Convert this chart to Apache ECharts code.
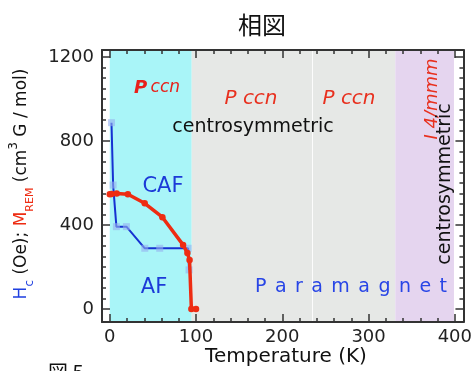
<!DOCTYPE html>
<html>
<head>
<meta charset="utf-8">
<script src="https://cdn.jsdelivr.net/npm/echarts@6/dist/echarts.min.js"></script>
<style>html,body{margin:0;padding:0;background:#fff}#c{width:475px;height:371px}</style>
</head>
<body>
<div id="c"></div>
<script>
// ---- data ----
const hcTemp = [2, 3.9, 7.7, 19.3, 40.6, 57.9, 90.8, 91.9];
const hcValue = [887, 590, 392, 392, 289, 289, 289, 186];
const mremTemp = [0, 2, 8, 21, 40.5, 61, 85, 90, 92.5, 94.6, 100];
const mremValue = [546, 548, 550, 546, 503, 437, 305, 266, 233, 0, 0];
const phaseRegions = [[0, 95], [95, 234.5], [235.5, 331], [331, 399]];
const xTickLabels = [0, 100, 200, 300, 400];
const yTickLabels = [0, 400, 800, 1200];

const regionColors = ['#a9f5f8', '#e6e8e6', '#e6e8e6', '#e5d5ef'];
const FONT = 'DejaVu Sans';
const X_MIN = -9, X_MAX = 410, Y_MIN = -62, Y_MAX = 1233;

function range(a, b, step, skip) {
  const out = [];
  for (let v = a; v <= b + 1e-9; v += step) if (!skip.includes(v)) out.push(v);
  return out;
}
const xMinor = range(0, 400, 20, xTickLabels);
const yMinor = range(0, 1200, 50, yTickLabels);

const lineCol = '#333';
function makeAxis(kind, pos, ticks, len, labels, showLine) {
  return {
    type: 'value', position: pos, z: 10,
    min: kind === 'x' ? X_MIN : Y_MIN, max: kind === 'x' ? X_MAX : Y_MAX,
    axisLine: {show: showLine, onZero: false, lineStyle: {color: lineCol, width: 2}},
    axisTick: {show: true, inside: true, length: len, customValues: ticks, lineStyle: {color: lineCol, width: 1.5}},
    axisLabel: labels ? {show: true, customValues: ticks, formatter: v => String(v), fontFamily: FONT, fontSize: 18, color: '#222', margin: kind === 'x' ? 6 : 8} : {show: false},
    splitLine: {show: false}
  };
}

const chart = echarts.init(document.getElementById('c'), null, {renderer: 'canvas'});

const areaData = phaseRegions.map((r, i) => [
  {xAxis: r[0], itemStyle: {color: regionColors[i], opacity: 1}},
  {xAxis: r[1]}
]);

// letter-spaced "Paramagnet"
const paraFont = '19px "' + FONT + '"';
const mctx = document.createElement('canvas').getContext('2d');
mctx.font = paraFont;
const paraChars = 'Paramagnet'.split('');
const widths = paraChars.map(c => mctx.measureText(c).width);
const paraStart = 255, paraEnd = 447;
const gap = (paraEnd - paraStart - widths.reduce((a, b) => a + b, 0)) / (paraChars.length - 1);
let cx = paraStart;
const paraTexts = paraChars.map((ch, i) => {
  const el = {type: 'text', x: cx, y: 287, z: 100,
    style: {text: ch, fill: '#2845e6', font: paraFont, align: 'left', verticalAlign: 'middle'}};
  cx += widths[i] + gap;
  return el;
});

function txt(x, y, text, fill, font, rot) {
  return {type: 'text', x: x, y: y, z: 100, rotation: rot || 0,
    style: {text: text, fill: fill, font: font, align: 'center', verticalAlign: 'middle'}};
}

chart.setOption({
  animation: false,
  grid: {left: 102, right: 11, top: 50, bottom: 49, containLabel: false},
  xAxis: [
    makeAxis('x', 'bottom', xTickLabels, 8, true, true),
    makeAxis('x', 'bottom', xMinor, 4, false, false),
    makeAxis('x', 'top', xTickLabels, 8, false, true),
    makeAxis('x', 'top', xMinor, 4, false, false)
  ],
  yAxis: [
    makeAxis('y', 'left', yTickLabels, 8, true, true),
    makeAxis('y', 'left', yMinor, 4, false, false),
    makeAxis('y', 'right', yTickLabels, 8, false, true),
    makeAxis('y', 'right', yMinor, 4, false, false)
  ],
  series: [
    {
      type: 'line', data: [], xAxisIndex: 0, yAxisIndex: 0, silent: true, z: 1,
      markArea: {silent: true, data: areaData}
    },
    {
      name: 'Hc', type: 'line', xAxisIndex: 0, yAxisIndex: 0,
      data: hcTemp.map((t, i) => [t, hcValue[i]]),
      lineStyle: {color: '#1632d2', width: 2},
      symbol: 'rect', symbolSize: 7,
      itemStyle: {color: 'rgba(150,175,240,0.6)'},
      z: 3
    },
    {
      name: 'MREM', type: 'line', xAxisIndex: 0, yAxisIndex: 0,
      data: mremTemp.map((t, i) => [t, mremValue[i]]),
      lineStyle: {color: '#ee2c12', width: 3.5},
      symbol: 'circle', symbolSize: 6.5,
      itemStyle: {color: '#ee2c12'},
      z: 4
    }
  ],
  graphic: [
    txt(262, 25, '相図', '#111', '24px "Noto Sans CJK JP"'),
    {type: 'text', x: 157, y: 88, z: 100, style: {
      text: '{b|P} {i|ccn}', align: 'center', verticalAlign: 'middle',
      rich: {b: {fill: '#e8201a', fontFamily: FONT, fontSize: 18, fontWeight: 'bold', fontStyle: 'italic'},
             i: {fill: '#e8201a', fontFamily: FONT, fontSize: 17, fontStyle: 'italic'}}}},
    txt(251, 99, 'P ccn', '#e8301e', 'italic 20px "' + FONT + '"'),
    txt(349, 99, 'P ccn', '#e8301e', 'italic 20px "' + FONT + '"'),
    txt(253, 127, 'centrosymmetric', '#111', '19px "' + FONT + '"'),
    txt(163, 187, 'CAF', '#1c3ad8', '21px "' + FONT + '"'),
    txt(154, 288, 'AF', '#1c3ad8', '21px "' + FONT + '"'),
    txt(432, 99, 'I 4/mmm', '#e8301e', 'italic 18px "' + FONT + '"', Math.PI / 2),
    txt(445, 184, 'centrosymmetric', '#111', '19px "' + FONT + '"', Math.PI / 2),
    txt(286, 357, 'Temperature (K)', '#111', '20px "' + FONT + '"'),
    {type: 'text', x: 48, y: 362, z: 100, style: {text: '図 5', fill: '#111', font: '20px "Noto Sans CJK JP"', align: 'left', verticalAlign: 'top'}},
    {type: 'text', x: 22, y: 184, z: 100, rotation: Math.PI / 2, style: {
      text: '{hb|H}{hs|c}{k| (Oe); }{mr|M}{ms|REM}{k| (cm}{sp|3}{k| G / mol)}',
      align: 'center', verticalAlign: 'middle',
      rich: {
        hb: {fill: '#2040e0', fontFamily: FONT, fontSize: 17, lineHeight: 28, verticalAlign: 'middle'},
        hs: {fill: '#2040e0', fontFamily: FONT, fontSize: 12, lineHeight: 28, verticalAlign: 'bottom'},
        k: {fill: '#111', fontFamily: FONT, fontSize: 17, lineHeight: 28, verticalAlign: 'middle'},
        mr: {fill: '#ee2c12', fontFamily: FONT, fontSize: 17, lineHeight: 28, verticalAlign: 'middle'},
        ms: {fill: '#ee2c12', fontFamily: FONT, fontSize: 11, lineHeight: 28, verticalAlign: 'bottom'},
        sp: {fill: '#111', fontFamily: FONT, fontSize: 12, lineHeight: 28, verticalAlign: 'top'}
      }}}
  ].concat(paraTexts)
});
</script>
</body>
</html>
